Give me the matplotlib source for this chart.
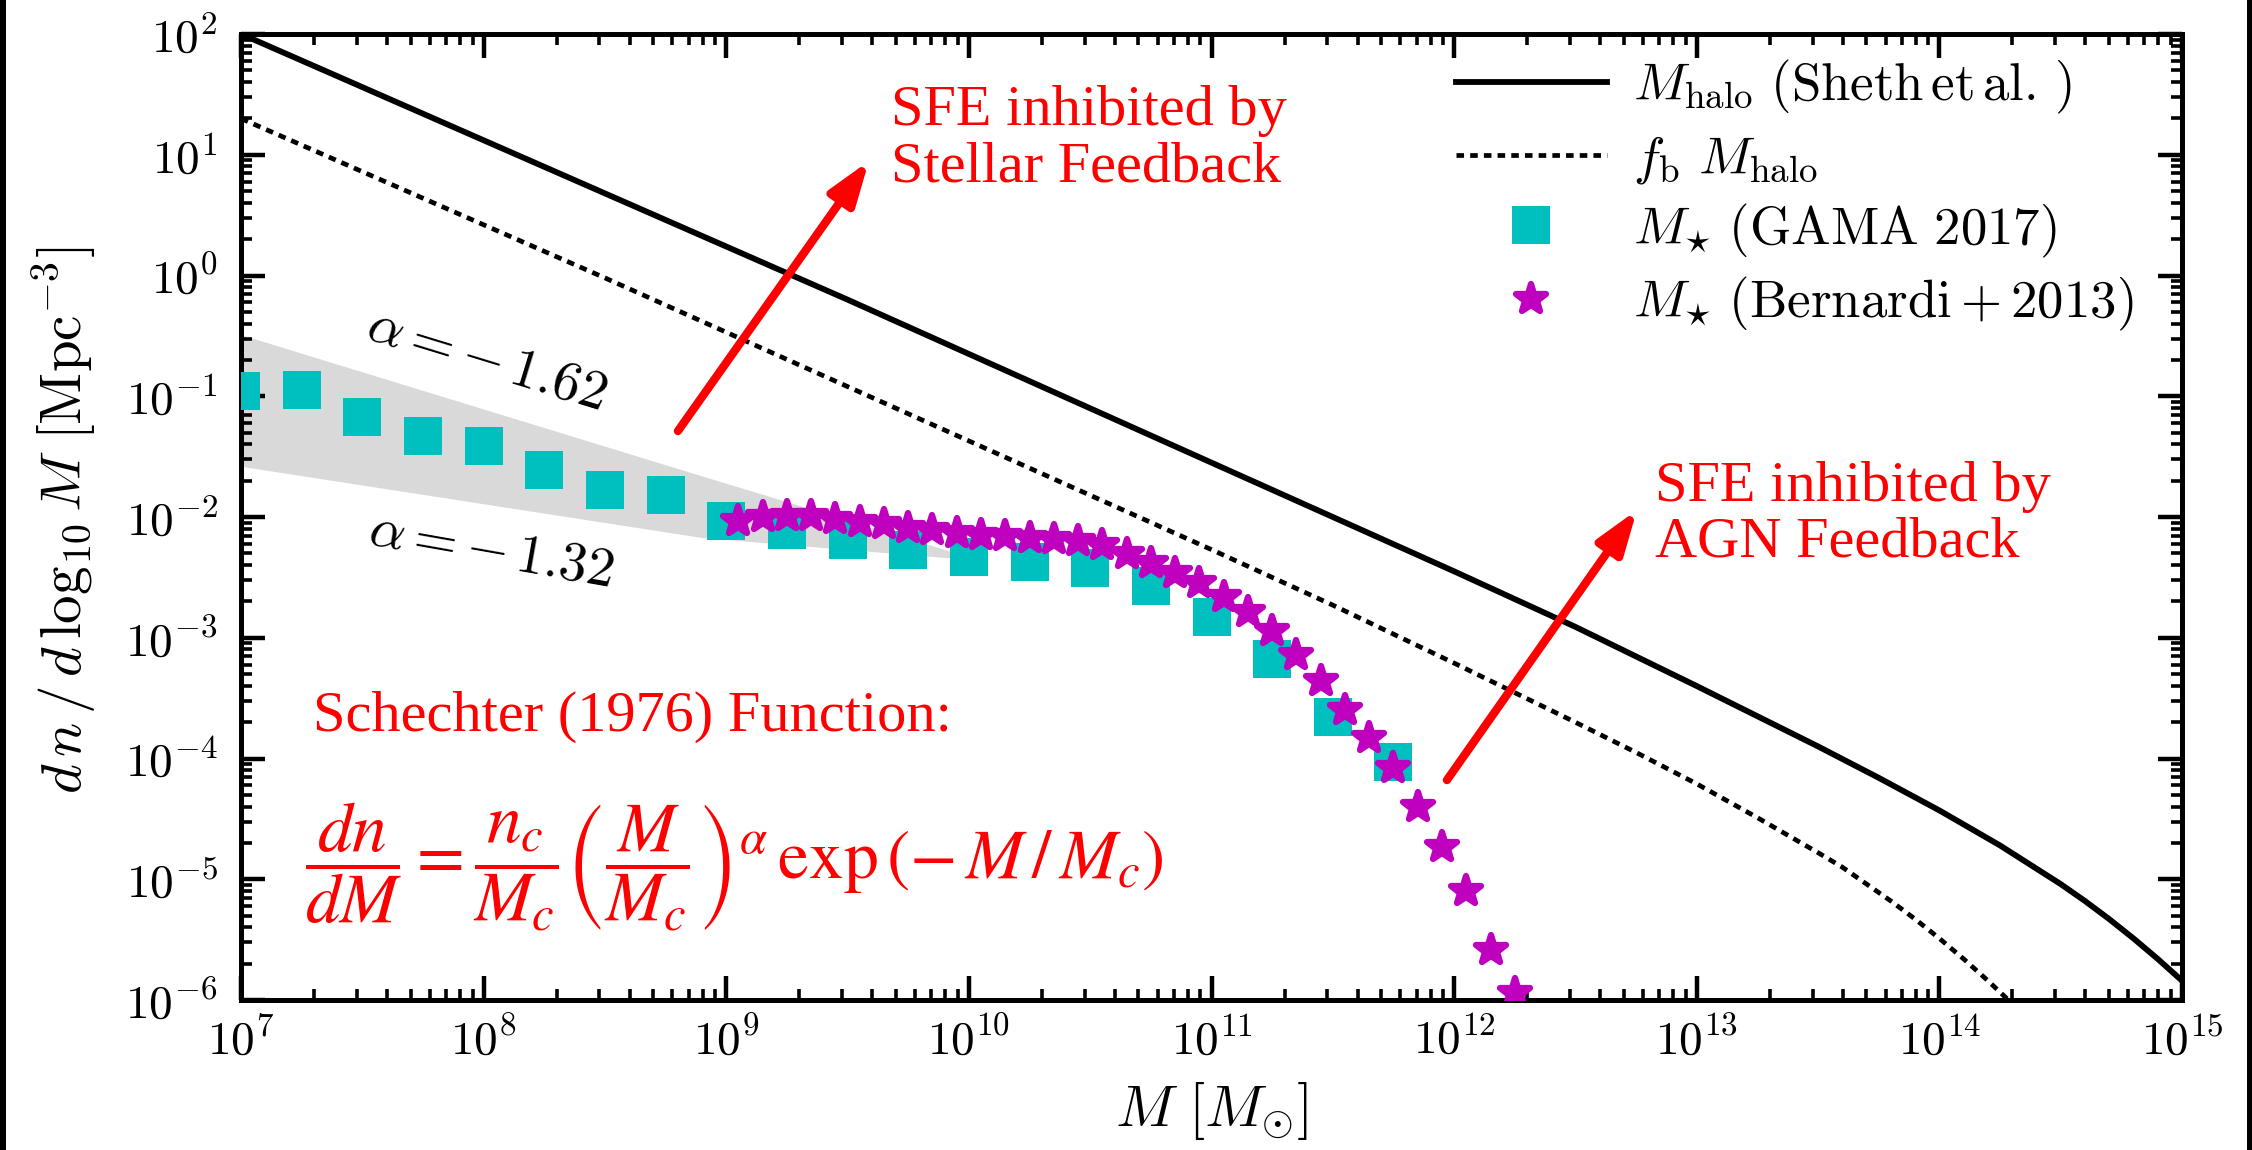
import glob
import numpy as np
import matplotlib
matplotlib.use("Agg")
import matplotlib.pyplot as plt
from matplotlib import font_manager as fm
from matplotlib.markers import MarkerStyle
from matplotlib.patches import Rectangle
from matplotlib.ticker import FuncFormatter, LogLocator


def serif_properties():
    """Times-like regular face for the red annotations."""
    for f in fm.fontManager.ttflist:
        if f.name == 'Liberation Serif' and f.style == 'normal' and f.weight in (400, 'normal', 'regular'):
            return fm.FontProperties(fname=f.fname)
    for pat in ['/usr/share/fonts/**/LiberationSerif-Regular.ttf',
                '/usr/share/fonts/**/NimbusRoman-Regular.*',
                '/usr/share/fonts/**/Times*.ttf',
                '/usr/local/share/fonts/**/LiberationSerif-Regular.ttf']:
        hits = glob.glob(pat, recursive=True)
        if hits:
            return fm.FontProperties(fname=hits[0])
    return fm.FontProperties(family='DejaVu Serif')


SERIF_FP = serif_properties()

plt.rcParams['mathtext.fontset'] = 'cm'

# ---- halo mass function (Sheth et al.), log10 M vs log10 dn/dlog10M ----
halo_logM = [7.0, 7.5, 8.0, 8.5, 9.0, 9.5, 10.0, 10.5, 11.0, 11.5, 12.0, 12.5,
             13.0, 13.5, 13.75, 14.0, 14.25, 14.5, 14.6, 14.7, 14.8, 14.9, 15.0]
halo_logn = [2.00, 1.56, 1.12, 0.68, 0.24, -0.20, -0.65, -1.10, -1.55, -2.00,
             -2.45, -2.91, -3.40, -3.90, -4.16, -4.43, -4.72, -5.04, -5.18, -5.33,
             -5.49, -5.66, -5.84]

# ---- baryon-fraction scaled halo mass function ----
fb_logM = [7.0, 7.5, 8.0, 8.5, 9.0, 9.5, 10.0, 10.5, 11.0, 11.5, 12.0, 12.5,
           12.75, 13.0, 13.25, 13.5, 13.6, 13.7, 13.8, 13.9, 14.0, 14.1, 14.2, 14.3]
fb_logn = [1.30, 0.86, 0.42, -0.02, -0.47, -0.92, -1.37, -1.82, -2.27, -2.73,
           -3.21, -3.70, -3.95, -4.21, -4.49, -4.78, -4.90, -5.04, -5.18, -5.33,
           -5.49, -5.66, -5.84, -6.03]

# ---- GAMA 2017 stellar mass function ----
gama_logM = [7.00, 7.25, 7.50, 7.75, 8.00, 8.25, 8.50, 8.75, 9.00, 9.25,
             9.50, 9.75, 10.00, 10.25, 10.50, 10.75, 11.00, 11.25, 11.50, 11.75]
gama_logn = [-0.96, -0.95, -1.17, -1.33, -1.41, -1.61, -1.78, -1.82, -2.03, -2.11,
             -2.19, -2.27, -2.33, -2.37, -2.42, -2.57, -2.83, -3.18, -3.66, -4.03]

# ---- Bernardi et al. 2013 stellar mass function ----
bern_logM = [9.05, 9.15, 9.25, 9.35, 9.45, 9.55, 9.65, 9.75, 9.85, 9.95,
             10.05, 10.15, 10.25, 10.35, 10.45, 10.55, 10.65, 10.75, 10.85, 10.95,
             11.05, 11.15, 11.25, 11.35, 11.45, 11.55, 11.65, 11.75, 11.85, 11.95,
             12.05, 12.15, 12.25]
bern_logn = [-2.03, -2.00, -1.99, -1.99, -2.02, -2.04, -2.06, -2.09, -2.11, -2.13,
             -2.145, -2.16, -2.17, -2.18, -2.20, -2.23, -2.31, -2.38, -2.46, -2.55,
             -2.66, -2.79, -2.945, -3.14, -3.36, -3.60, -3.83, -4.08, -4.405, -4.735,
             -5.10, -5.585, -5.94]

# ---- low-mass slope range (alpha = -1.62 ... -1.32) ----
band_logM = [7.0, 8.9, 10.05]
band_upper = [-0.49, -1.66, -2.36]
band_lower = [-1.58, -2.17, -2.36]

legend_labels = [r'$M_{\rm halo}\ ({\rm Sheth\,et\,al.\,})$',
                 r'$f_{\rm b}\ M_{\rm halo}$',
                 r'$M_{\star}\ ({\rm GAMA\ 2017})$',
                 r'$M_{\star}\ ({\rm Bernardi+2013})$']


def p10(a):
    return 10.0 ** np.asarray(a, dtype=float)


W, H = 2252, 1150
fig = plt.figure(figsize=(W / 100, H / 100), dpi=100)
ax = fig.add_axes([241 / W, 150 / H, 1941 / W, 966 / H])

ax.fill_between(p10(band_logM), p10(band_lower), p10(band_upper),
                color='#d9d9d9', lw=0, zorder=1)
ax.plot(p10(halo_logM), p10(halo_logn), color='k', lw=4.2, zorder=3,
        label=legend_labels[0])
ax.plot(p10(fb_logM), p10(fb_logn), color='k', lw=3.4, ls=(0, (1.6, 1.3)),
        zorder=3, label=legend_labels[1])
ax.plot(p10(gama_logM), p10(gama_logn), ls='none', marker='s', ms=28,
        color='c', mec='c', mew=0, zorder=4, label=legend_labels[2])
ax.plot(p10(bern_logM), p10(bern_logn), ls='none',
        marker=MarkerStyle('*', joinstyle='round'), ms=22, mew=4.5,
        color='m', mec='m', zorder=5, label=legend_labels[3])

ax.set_xscale('log')
ax.set_yscale('log')
ax.set_xlim(1e7, 1e15)
ax.set_ylim(1e-6, 1e2)

fmt = FuncFormatter(lambda v, pos: r'$10^{%d}$' % int(round(np.log10(v))))
ax.xaxis.set_major_formatter(fmt)
ax.yaxis.set_major_formatter(fmt)
ax.xaxis.set_major_locator(LogLocator(base=10, numticks=20))
ax.yaxis.set_major_locator(LogLocator(base=10, numticks=20))
ax.xaxis.set_minor_locator(LogLocator(base=10, subs=np.arange(2, 10), numticks=100))
ax.yaxis.set_minor_locator(LogLocator(base=10, subs=np.arange(2, 10), numticks=100))
ax.xaxis.set_minor_formatter(plt.NullFormatter())
ax.yaxis.set_minor_formatter(plt.NullFormatter())

ax.tick_params(which='both', direction='in', top=True, right=True)
ax.tick_params(which='major', length=17, width=3.2, labelsize=34)
ax.tick_params(which='minor', length=8, width=2.6)
ax.tick_params(axis='x', which='major', pad=13)
ax.tick_params(axis='y', which='major', pad=17)
for s in ax.spines.values():
    s.set_linewidth(3.6)

ax.set_xlabel(r'$M\ [M_{\odot}]$', fontsize=42)
ax.set_ylabel(r'$d\,n\,/\,d\,\log_{10}M\ [{\rm Mpc}^{-3}]$', fontsize=41)
ax.xaxis.set_label_coords(0.5, -0.083)
ax.yaxis.set_label_coords(-0.073, 0.497)

leg = ax.legend(loc='upper right', bbox_to_anchor=(0.975, 0.975), frameon=False,
                fontsize=38, handlelength=2.85, handletextpad=0.5,
                labelspacing=0.3, borderaxespad=0, borderpad=0, numpoints=1)

# slope annotations
ax.text(0.1267, 0.6625, r'$\alpha=-\,\mathit{1.62}$', transform=ax.transAxes,
        fontsize=40, rotation=-17, ha='center', va='center', rotation_mode='anchor')
ax.text(0.1288, 0.4648, r'$\alpha=-\,\mathit{1.32}$', transform=ax.transAxes,
        fontsize=40, rotation=-10, ha='center', va='center', rotation_mode='anchor')

# feedback annotations (y = baseline of the last line)
red_kw = dict(color='red', fontproperties=SERIF_FP, transform=ax.transAxes,
              ha='left', va='baseline', linespacing=1.1)
ax.text(0.3351, 0.8478, 'SFE inhibited by\nStellar Feedback', fontsize=42, **red_kw)
ax.text(0.7285, 0.4586, 'SFE inhibited by\nAGN Feedback', fontsize=42, **red_kw)
ax.text(0.0371, 0.2785, 'Schechter (1976) Function:', fontsize=42, **red_kw)
ax.text(0.033, 0.1377,
        r'$\dfrac{dn}{dM}=\dfrac{n_c}{M_c}\left(\dfrac{M}{M_c}\right)^{\alpha}'
        r'\,\exp\left(-\,M\,/\,M_c\right)$',
        transform=ax.transAxes, color='red', fontsize=50, math_fontfamily='stix',
        ha='left', va='center')

arrow_kw = dict(arrowstyle='-|>,head_length=2.6,head_width=0.9', color='red',
                lw=6, mutation_scale=10, shrinkA=0, shrinkB=0)
ax.annotate('', xy=(0.3235, 0.8685), xytext=(0.2251, 0.5890),
            xycoords='axes fraction', textcoords='axes fraction', arrowprops=arrow_kw)
ax.annotate('', xy=(0.7192, 0.5072), xytext=(0.6213, 0.2277),
            xycoords='axes fraction', textcoords='axes fraction', arrowprops=arrow_kw)

# dark side borders of the canvas
fig.add_artist(Rectangle((0, 0), 6 / W, 1, transform=fig.transFigure,
                         color='k', lw=0))
fig.add_artist(Rectangle((1 - 5 / W, 0), 5 / W, 1, transform=fig.transFigure,
                         color='k', lw=0))

fig.savefig('out.png', dpi=100)
